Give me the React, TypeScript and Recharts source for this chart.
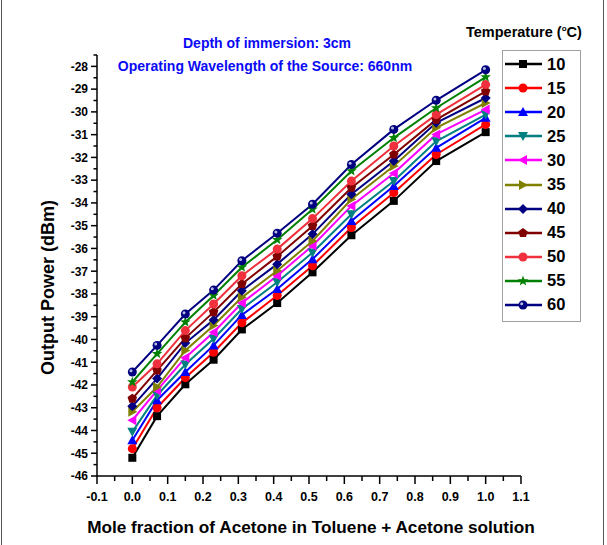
import React from 'react';
import { LineChart, Line, XAxis, YAxis, Legend, Label } from 'recharts';

// mole fraction of acetone (x)
const moleFraction = [0, 0.07, 0.15, 0.23, 0.31, 0.41, 0.51, 0.62, 0.74, 0.86, 1.0];

// output power (dBm) per temperature
const t10 = [-45.2, -43.37, -41.97, -40.89, -39.56, -38.4, -37.05, -35.42, -33.91, -32.16, -30.89];
const t15 = [-44.8, -43.0, -41.68, -40.56, -39.27, -38.07, -36.76, -35.08, -33.55, -31.87, -30.55];
const t20 = [-44.43, -42.67, -41.43, -40.26, -38.92, -37.78, -36.47, -34.79, -33.26, -31.58, -30.26];
const t25 = [-44.06, -42.45, -41.1, -39.97, -38.66, -37.49, -36.18, -34.5, -33.04, -31.29, -30.12];
const t30 = [-43.55, -42.24, -40.8, -39.68, -38.4, -37.2, -35.88, -34.13, -32.7, -30.99, -29.9];
const t35 = [-43.18, -42.09, -40.48, -39.39, -38.15, -36.98, -35.67, -33.84, -32.38, -30.7, -29.61];
const t40 = [-42.94, -41.72, -40.16, -39.14, -37.86, -36.69, -35.37, -33.62, -32.16, -30.48, -29.39];
const t45 = [-42.6, -41.36, -39.94, -38.8, -37.56, -36.35, -35.01, -33.33, -31.87, -30.34, -29.1];
const t50 = [-42.09, -41.07, -39.61, -38.44, -37.2, -36.03, -34.69, -33.04, -31.5, -30.12, -28.8];
const t55 = [-41.87, -40.63, -39.24, -38.07, -36.83, -35.62, -34.28, -32.6, -31.14, -29.83, -28.47];
const t60 = [-41.43, -40.26, -38.88, -37.83, -36.54, -35.33, -34.06, -32.31, -30.77, -29.49, -28.15];

// tick values
const xMajorTicks = [-0.1, 0, 0.1, 0.2, 0.3, 0.4, 0.5, 0.6, 0.7, 0.8, 0.9, 1.0, 1.1];
const yMajorTicks = [-46, -45, -44, -43, -42, -41, -40, -39, -38, -37, -36, -35, -34, -33, -32, -31, -30, -29, -28];

const FONT = '"Liberation Sans", Arial, sans-serif';

type Shape = 'square' | 'circle' | 'up' | 'down' | 'left' | 'right' | 'diamond' | 'pentagon' | 'star' | 'ball';

const series: { key: string; name: string; color: string; shape: Shape; values: number[] }[] = [
  { key: 't10', name: '10', color: '#000000', shape: 'square', values: t10 },
  { key: 't15', name: '15', color: '#ff0000', shape: 'circle', values: t15 },
  { key: 't20', name: '20', color: '#0000ff', shape: 'up', values: t20 },
  { key: 't25', name: '25', color: '#008080', shape: 'down', values: t25 },
  { key: 't30', name: '30', color: '#ff00ff', shape: 'left', values: t30 },
  { key: 't35', name: '35', color: '#808000', shape: 'right', values: t35 },
  { key: 't40', name: '40', color: '#000080', shape: 'diamond', values: t40 },
  { key: 't45', name: '45', color: '#800000', shape: 'pentagon', values: t45 },
  { key: 't50', name: '50', color: '#f0303c', shape: 'circle', values: t50 },
  { key: 't55', name: '55', color: '#008000', shape: 'star', values: t55 },
  { key: 't60', name: '60', color: '#000080', shape: 'ball', values: t60 },
];

const data = moleFraction.map((x, i) => {
  const row: Record<string, number> = { x };
  series.forEach(s => { row[s.key] = s.values[i]; });
  return row;
});

const round2 = (v: number) => Math.round(v * 100) / 100;
const xTicks = [...xMajorTicks, ...xMajorTicks.slice(0, -1).map(v => round2(v + 0.05))].sort((a, b) => a - b);
const yTicks = [...yMajorTicks, ...yMajorTicks.map(v => v + 0.5)].sort((a, b) => a - b);

const polygon = (n: number, r: number, inner?: number) => {
  const pts: string[] = [];
  const count = inner ? n * 2 : n;
  for (let i = 0; i < count; i++) {
    const rr = inner && i % 2 === 1 ? inner : r;
    const a = -Math.PI / 2 + (i * 2 * Math.PI) / count;
    pts.push(`${(rr * Math.cos(a)).toFixed(2)},${(rr * Math.sin(a)).toFixed(2)}`);
  }
  return pts.join(' ');
};

const Marker = ({ cx, cy, shape, color }: { cx: number; cy: number; shape: Shape; color: string }) => {
  if (cx == null || cy == null) return null;
  let el: React.ReactNode;
  switch (shape) {
    case 'square':
      el = <rect x={-4} y={-4} width={8} height={8} fill={color} />;
      break;
    case 'circle':
      el = <circle r={4.5} fill={color} />;
      break;
    case 'up':
      el = <polygon points="0,-5 5,4 -5,4" fill={color} />;
      break;
    case 'down':
      el = <polygon points="0,5 5,-4 -5,-4" fill={color} />;
      break;
    case 'left':
      el = <polygon points="-5,0 4,-5 4,5" fill={color} />;
      break;
    case 'right':
      el = <polygon points="5,0 -4,-5 -4,5" fill={color} />;
      break;
    case 'diamond':
      el = <polygon points="0,-5 5,0 0,5 -5,0" fill={color} />;
      break;
    case 'pentagon':
      el = <polygon points={polygon(5, 5)} fill={color} />;
      break;
    case 'star':
      el = <polygon points={polygon(5, 5.5, 2.3)} fill={color} />;
      break;
    case 'ball':
      el = (
        <g>
          <circle r={4.5} fill={color} />
          <circle cx={-1.3} cy={-1.3} r={1.5} fill="#b8bce0" />
        </g>
      );
      break;
  }
  return <g transform={`translate(${cx},${cy})`}>{el}</g>;
};

const YTick = (props: any) => {
  const { x, y, payload } = props;
  const v = payload.value as number;
  const major = Number.isInteger(v);
  return (
    <g>
      <line x1={x - (major ? 6 : 3.5)} x2={x} y1={y} y2={y} stroke="#000" strokeWidth={1.5} />
      {major && (
        <text x={x - 9} y={y} dy="0.36em" textAnchor="end" fontFamily={FONT} fontWeight="bold" fontSize={12} fill="#000">
          {v}
        </text>
      )}
    </g>
  );
};

const XTick = (props: any) => {
  const { x, y, payload } = props;
  const v = payload.value as number;
  const major = xMajorTicks.some(m => Math.abs(m - v) < 1e-6);
  return (
    <g>
      <line x1={x} x2={x} y1={y} y2={y + (major ? 8 : 5)} stroke="#000" strokeWidth={1.5} />
      {major && (
        <text x={x} y={y + 25} textAnchor="middle" fontFamily={FONT} fontWeight="bold" fontSize={12.5} fill="#000">
          {v.toFixed(1)}
        </text>
      )}
    </g>
  );
};

const LegendBox = () => (
  <div style={{ fontFamily: FONT, fontWeight: 'bold', color: '#000' }}>
    <div style={{ fontSize: 14.5, whiteSpace: 'nowrap', paddingTop: 6, height: 26 }}>
      Temperature (<sup style={{ fontSize: 8 }}>o</sup>C)
    </div>
    <div style={{ marginLeft: 36, width: 77, border: '1px solid #a0a0a0', padding: '1px 0 4px 0' }}>
      {series.map(s => (
        <div key={s.key} style={{ display: 'flex', alignItems: 'center', height: 24.1 }}>
          <svg width={42} height={14} style={{ display: 'block' }}>
            <line x1={2} x2={39} y1={7} y2={7} stroke={s.color} strokeWidth={2.5} />
            <Marker cx={20} cy={7} shape={s.shape} color={s.color} />
          </svg>
          <span style={{ fontSize: 16.5, marginLeft: 2 }}>{s.name}</span>
        </div>
      ))}
    </div>
  </div>
);

const App: React.FC = () => {
  return (
    <div style={{ position: 'absolute', left: 0, top: 0, width: 607, height: 545, background: '#fff' }}>
      <div style={{ position: 'absolute', left: 1, top: 0, width: 1, height: 545, background: '#555' }} />
      <div style={{ position: 'absolute', left: 603, top: 0, width: 1, height: 545, background: '#555' }} />
      <LineChart width={607} height={545} data={data} margin={{ top: 55, right: 86, left: 0, bottom: 0 }}>
        <XAxis
          dataKey="x"
          type="number"
          domain={[-0.1, 1.1]}
          ticks={xTicks}
          interval={0}
          height={69}
          tickSize={0}
          tickMargin={0}
          tickLine={false}
          tick={<XTick />}
          axisLine={{ stroke: '#000', strokeWidth: 1.5 }}
          allowDataOverflow
        >
          <Label
            content={(p: any) => {
              const vb = p.viewBox;
              return (
                <text x={vb.x + vb.width / 2 + 2} y={vb.y + 57} textAnchor="middle" fontFamily={FONT} fontWeight="bold" fontSize={17.2} fill="#000">
                  Mole fraction of Acetone in Toluene + Acetone solution
                </text>
              );
            }}
          />
        </XAxis>
        <YAxis
          type="number"
          domain={[-46, -27.5]}
          ticks={yTicks}
          interval={0}
          width={97}
          tickSize={0}
          tickMargin={0}
          tickLine={false}
          tick={<YTick />}
          axisLine={{ stroke: '#000', strokeWidth: 1.5 }}
          allowDataOverflow
        >
          <Label
            content={(p: any) => {
              const vb = p.viewBox;
              const cx = vb.x + 54;
              const cy = vb.y + vb.height / 2 + 22;
              return (
                <text x={cx} y={cy} transform={`rotate(-90, ${cx}, ${cy})`} textAnchor="middle" fontFamily={FONT} fontWeight="bold" fontSize={18} fill="#000">
                  Output Power (dBm)
                </text>
              );
            }}
          />
        </YAxis>
        <Legend
          layout="vertical"
          align="center"
          verticalAlign="middle"
          content={<LegendBox />}
          wrapperStyle={{ position: 'absolute', left: 466, top: 18, width: 141 }}
        />
        {series.map(s => (
          <Line
            key={s.key}
            dataKey={s.key}
            name={s.name}
            type="linear"
            stroke={s.color}
            strokeWidth={2}
            isAnimationActive={false}
            activeDot={false}
            dot={(p: any) => <Marker key={`${s.key}-${p.index}`} cx={p.cx} cy={p.cy} shape={s.shape} color={s.color} />}
          />
        ))}
      </LineChart>
      <div
        style={{
          position: 'absolute',
          left: 0,
          width: 530,
          top: 32,
          textAlign: 'center',
          fontFamily: FONT,
          fontWeight: 'bold',
          fontSize: 14,
          color: '#0a0af5',
          lineHeight: '23px',
        }}
      >
        <div style={{ paddingLeft: 4 }}>Depth of immersion: 3cm</div>
        <div>Operating Wavelength of the Source: 660nm</div>
      </div>
    </div>
  );
};

export default App;
